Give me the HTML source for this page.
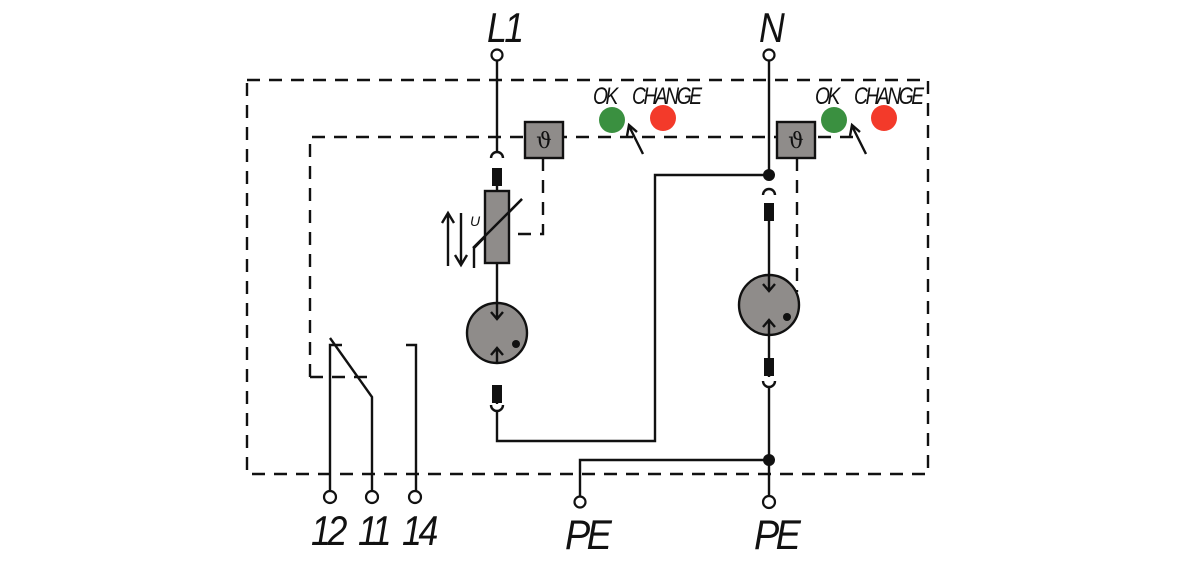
<!DOCTYPE html>
<html><head><meta charset="utf-8"><style>html,body{margin:0;padding:0;background:#fff}svg{display:block}</style></head>
<body>
<svg width="1200" height="566" viewBox="0 0 1200 566" xmlns="http://www.w3.org/2000/svg">
<g fill="none" stroke="#111" stroke-width="2.4">
<g stroke-dasharray="13,9">
<path d="M247 80 H928 V474 H247 Z"/>
<path d="M310 377 V137 H860"/>
<path d="M310 377 H372"/>
<path d="M543 158 V234 H508"/>
<path d="M797 158 V292"/>
</g>
<path d="M497 60 V151"/>
<path d="M491 158 A6 6 0 0 1 503 158"/>
<path d="M497 186 V191"/>
<path d="M497 263 V333"/>
<path d="M474 268 V248 L522 199"/>
<path d="M497 395 V404"/>
<path d="M491 405 A6 6 0 0 0 503 405"/>
<path d="M497 411 V441 H655 V175 H769"/>
<path d="M448 266 V213 M442 223 L448 213 L454 223"/>
<path d="M461 213 V265 M455 255 L461 265 L467 255"/>
<path d="M769 60 V175"/>
<path d="M763 195 A6 6 0 0 1 775 195"/>
<path d="M769 220 V305"/>
<path d="M769 305 V377"/>
<path d="M763 381 A6 6 0 0 0 775 381"/>
<path d="M769 387 V497"/>
<path d="M769 460 H580 V497"/>
<path d="M330 492 V345 H342"/>
<path d="M330 338 L372 397 V492"/>
<path d="M406 345 H416 V492"/>
<path d="M643 154 L629 126 M627 136 L629 125 L637 132"/>
<path d="M866 154 L852 126 M850 136 L852 125 L860 132"/>
</g>
<rect x="492" y="168" width="10" height="18" fill="#111"/>
<rect x="485" y="191" width="24" height="72" fill="#8f8c8a" stroke="#111" stroke-width="2.4"/>
<path d="M473 248 L522 199" stroke="#111" stroke-width="2.4"/>
<text x="470" y="226" font-family="Liberation Sans,sans-serif" font-style="italic" font-size="14" fill="#111">U</text>
<rect x="492" y="385" width="10" height="18" fill="#111"/>
<rect x="764" y="203" width="10" height="18" fill="#111"/>
<rect x="764" y="358" width="10" height="18" fill="#111"/>
<circle cx="497" cy="333" r="30" fill="#8f8c8a" stroke="#111" stroke-width="2.4"/>
<path d="M497 303 V319 M491 312 L497 319 L503 312 M497 363 V348 M491 355 L497 348 L503 355" stroke="#111" stroke-width="2.4" fill="none"/>
<circle cx="516" cy="344" r="4" fill="#111"/>
<circle cx="769" cy="305" r="30" fill="#8f8c8a" stroke="#111" stroke-width="2.4"/>
<path d="M769 275 V291 M763 284 L769 291 L775 284 M769 335 V320 M763 327 L769 320 L775 327" stroke="#111" stroke-width="2.4" fill="none"/>
<circle cx="787" cy="317" r="4" fill="#111"/>
<rect x="525" y="122" width="38" height="36" fill="#8f8c8a" stroke="#111" stroke-width="2.4"/>
<text x="544" y="148" text-anchor="middle" font-family="DejaVu Serif,serif" font-size="22" fill="#111">ϑ</text>
<rect x="777" y="122" width="38" height="36" fill="#8f8c8a" stroke="#111" stroke-width="2.4"/>
<text x="796" y="148" text-anchor="middle" font-family="DejaVu Serif,serif" font-size="22" fill="#111">ϑ</text>
<circle cx="769" cy="175" r="6" fill="#111"/>
<circle cx="769" cy="460" r="6" fill="#111"/>
<circle cx="612" cy="120" r="13" fill="#3a9040"/>
<circle cx="663" cy="118" r="13" fill="#f33a2a"/>
<circle cx="834" cy="120" r="13" fill="#3a9040"/>
<circle cx="884" cy="118" r="13" fill="#f33a2a"/>
<g font-family="Liberation Sans,sans-serif" font-style="italic" fill="#111" font-size="24">
<text transform="translate(593,104) scale(0.8,1)" letter-spacing="-3">OK</text>
<text transform="translate(632,104) scale(0.8,1)" letter-spacing="-3">CHANGE</text>
<text transform="translate(815,104) scale(0.8,1)" letter-spacing="-3">OK</text>
<text transform="translate(854,104) scale(0.8,1)" letter-spacing="-3">CHANGE</text>
</g>
<g fill="#fff" stroke="#111" stroke-width="2.2">
<circle cx="497" cy="55" r="5.5"/>
<circle cx="769" cy="55" r="5.5"/>
<circle cx="330" cy="497" r="6"/>
<circle cx="372" cy="497" r="6"/>
<circle cx="415" cy="497" r="6"/>
<circle cx="580" cy="502" r="5.5"/>
<circle cx="769" cy="502" r="6"/>
</g>
<g font-family="Liberation Sans,sans-serif" font-style="italic" fill="#111" font-size="42">
<text transform="translate(487,42) scale(0.85,1)" letter-spacing="-3">L1</text>
<text transform="translate(759,42) scale(0.85,1)">N</text>
<text transform="translate(311,545) scale(0.85,1)" letter-spacing="-4">12</text>
<text transform="translate(358,545) scale(0.85,1)" letter-spacing="-4">11</text>
<text transform="translate(402,545) scale(0.85,1)" letter-spacing="-4">14</text>
<text transform="translate(565,549) scale(0.9,1)" letter-spacing="-4">PE</text>
<text transform="translate(754,549) scale(0.9,1)" letter-spacing="-4">PE</text>
</g>
</svg>
</body></html>
